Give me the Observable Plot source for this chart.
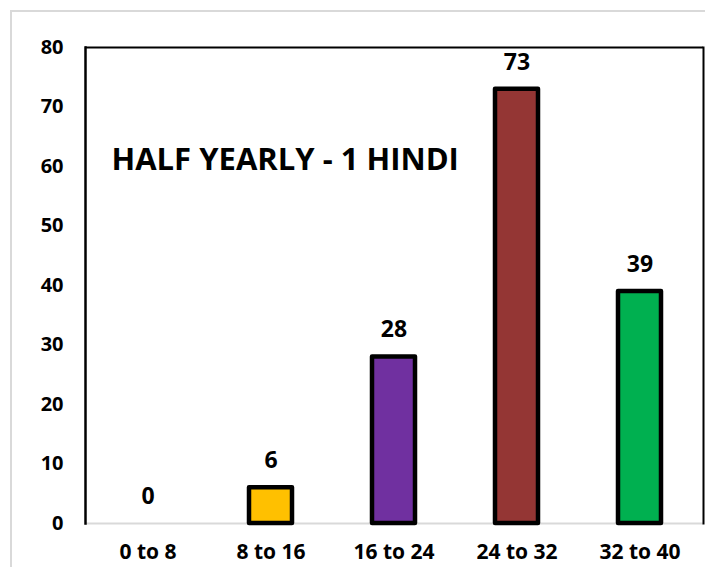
<!DOCTYPE html>
<html>
<head>
<meta charset="utf-8">
<script src="https://cdn.jsdelivr.net/npm/d3@7"></script>
<script src="https://cdn.jsdelivr.net/npm/@observablehq/plot@0.6"></script>
<style>
  html, body { margin: 0; padding: 0; background: #fff; }
  #wrap { position: relative; width: 705px; height: 567px; overflow: hidden; }
  #border { position: absolute; left: 10px; top: 10px; width: 720px; height: 600px; border: 2px solid #d9d9d9; box-sizing: border-box; pointer-events: none; }
  #chart { position: absolute; left: 0; top: 0; }
</style>
</head>
<body>
<div id="wrap"><div id="border"></div><div id="chart"></div></div>
<script>
const categories = ["0 to 8", "8 to 16", "16 to 24", "24 to 32", "32 to 40"];
const counts = [0, 6, 28, 73, 39];
const barColors = ["#4472C4", "#FFC000", "#7030A0", "#943634", "#00B050"];
const yTicks = [0, 10, 20, 30, 40, 50, 60, 70, 80];
const titleText = "HALF YEARLY - 1 HINDI";

const data = categories.map((c, i) => ({category: c, count: counts[i], color: barColors[i]}));

const chart = Plot.plot({
  width: 705,
  height: 567,
  marginLeft: 85,
  marginRight: 2,
  marginTop: 47,
  marginBottom: 44,
  style: {fontFamily: "'Open Sans', sans-serif", fontWeight: 700, fontSize: "20px", color: "#000", background: "transparent"},
  x: {domain: categories, paddingInner: 0.65, paddingOuter: 0.325, label: null},
  y: {domain: [0, 80], ticks: yTicks, label: null},
  marks: [
    Plot.axisY({ticks: yTicks, tickSize: 0, tickPadding: 22, fontSize: 20, fontWeight: 700, label: null}),
    Plot.axisX({tickSize: 0, tickPadding: 21, fontSize: 21, fontWeight: 700, label: null}),
    Plot.ruleY([0], {stroke: "#d9d9d9", strokeWidth: 2}),
    Plot.ruleY([80], {stroke: "#000", strokeWidth: 2}),
    Plot.frame({anchor: "left", stroke: "#000", strokeWidth: 2.5}),
    Plot.frame({anchor: "right", stroke: "#000", strokeWidth: 2}),
    Plot.barY(data.filter(d => d.count > 0), {
      x: "category", y: "count", fill: d => d.color,
      stroke: "#000", strokeWidth: 4.5, strokeLinejoin: "round"
    }),
    Plot.text(data, {x: "category", y: "count", text: d => String(d.count), dy: -27, fontSize: 23, fontWeight: 700}),
    Plot.text([titleText], {frameAnchor: "top-left", dx: 26, dy: 100, textAnchor: "start", fontSize: 31, fontWeight: 700})
  ]
});
document.getElementById("chart").appendChild(chart);
</script>
</body>
</html>
